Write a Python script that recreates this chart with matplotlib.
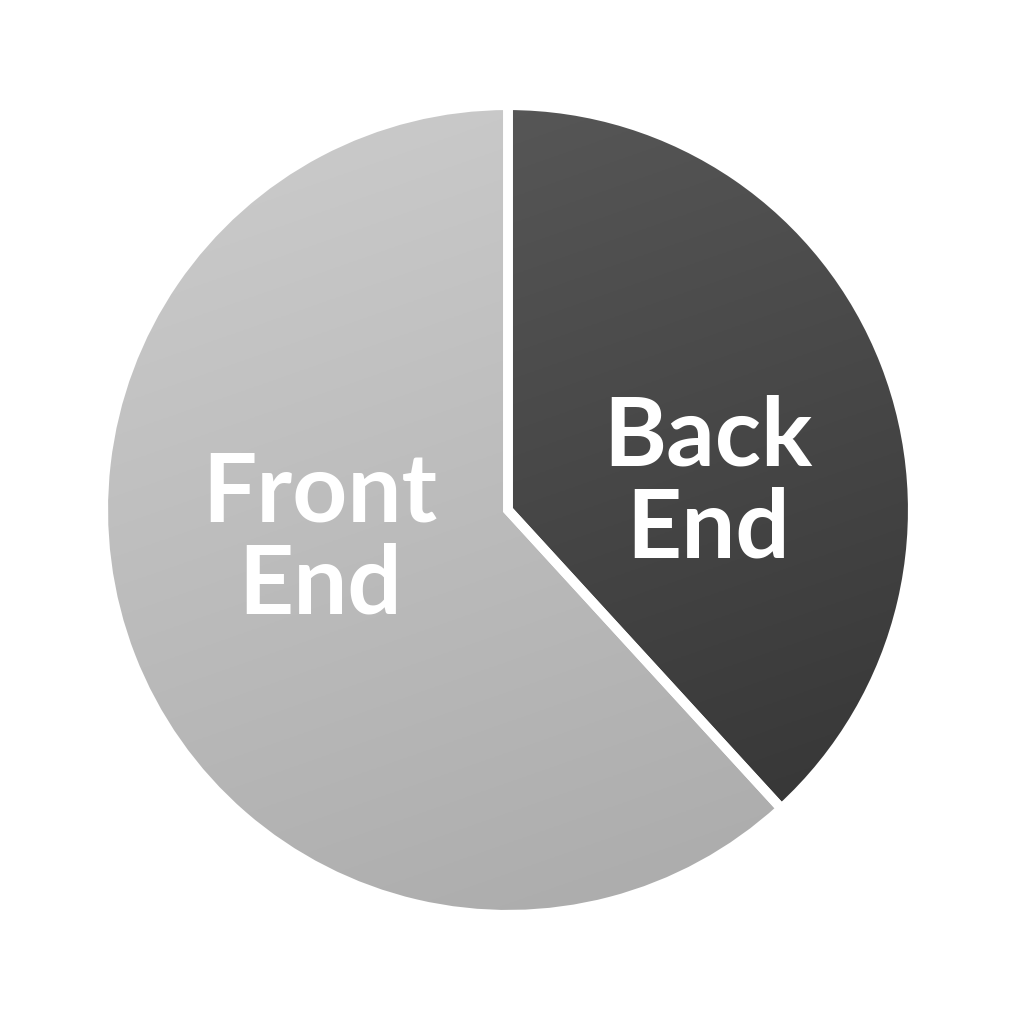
import numpy as np
import matplotlib
matplotlib.use("Agg")
import matplotlib.pyplot as plt

labels = ["Back End", "Front End"]
shares = [38.2, 61.8]
# (top-left colour, bottom-right colour) for each slice gradient
grads = [("#5c5c5c", "#323232"), ("#cdcdcd", "#a9a9a9")]
label_pos = [(0.50, 0.065), (-0.47, -0.075)]

R = 1.012

fig = plt.figure(figsize=(10.24, 10.24), dpi=100)
ax = fig.add_axes([0, 0, 1, 1])

wedges, _ = ax.pie(shares, startangle=90, counterclock=False,
                   radius=R, colors=[g[1] for g in grads],
                   wedgeprops=dict(edgecolor="white", linewidth=7))

# gradient fill clipped to each wedge
yy, xx = np.mgrid[1:-1:300j, -1:1:300j]
for w, (c0, c1) in zip(wedges, grads):
    a = np.array(matplotlib.colors.to_rgb(c0))
    b = np.array(matplotlib.colors.to_rgb(c1))
    t = np.clip((xx * 0.35 - yy) / 2.7 + 0.5, 0, 1)[..., None]
    img = a * (1 - t) + b * t
    im = ax.imshow(img, extent=(-R, R, -R, R), zorder=1.5)
    im.set_clip_path(w)
    w.set_facecolor("none")
    w.set_zorder(2)

for lab, (x, y) in zip(labels, label_pos):
    ax.text(x, y, lab.replace(" ", "\n"), ha="center", va="center",
            color="white", fontsize=69, fontweight="bold",
            family=["Lato", "DejaVu Sans"], linespacing=1.06, zorder=3)

ax.set_xlim(-1.27, 1.29)
ax.set_ylim(-1.285, 1.275)
ax.set_aspect("equal")
ax.axis("off")
fig.savefig("out.png", dpi=100, facecolor="white")
